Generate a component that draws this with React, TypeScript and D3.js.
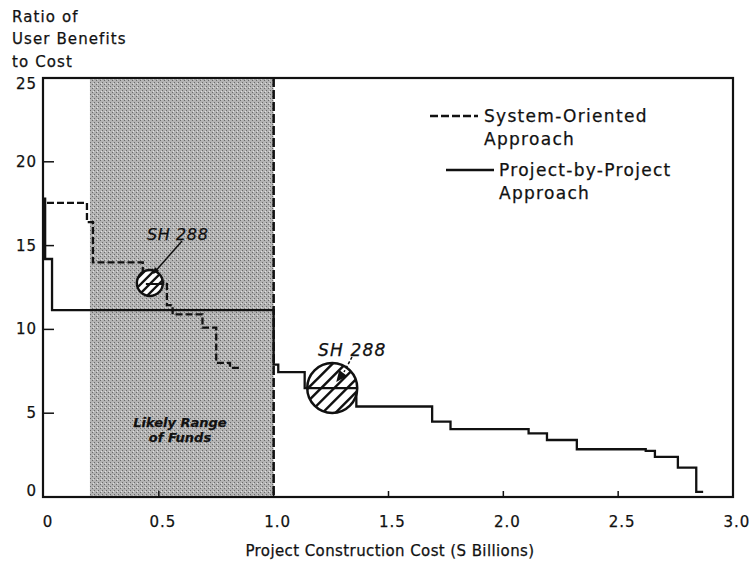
import React from 'react';
import * as d3 from 'd3';

// project-by-project approach (solid), step points
const solidX = [0, 0.005, 0.035, 1.0, 1.02, 1.135, 1.36, 1.69, 1.77, 2.11, 2.19, 2.32, 2.62, 2.66, 2.76, 2.84, 2.87];
const solidY = [17.8, 14.2, 11.15, 7.9, 7.45, 6.5, 5.4, 4.5, 4.05, 3.8, 3.4, 2.85, 2.75, 2.4, 1.75, 0.3, 0.3];

// system-oriented approach (dashed)
const dashX = [0.013, 0.187, 0.213, 0.43, 0.535, 0.56, 0.69, 0.75, 0.81, 0.86];
const dashY = [17.55, 16.4, 14.0, 12.8, 11.45, 10.9, 10.1, 8.0, 7.7, 7.7];

const xTicks = [0, 0.5, 1.0, 1.5, 2.0, 2.5, 3.0];
const xTickLabels = ['0', '0.5', '1.0', '1.5', '2.0', '2.5', '3.0'];
const yTicks = [0, 5, 10, 15, 20, 25];

const fundsRange = [0.2, 1.0];
// SH 288 markers: [x, y]
const sh288System = [0.461, 12.77];
const sh288Project = [1.255, 6.5];

const W = 750;
const H = 565;
const FONT = '"DejaVu Sans", Arial, sans-serif';
const INK = '#111';

const App = () => {
  const x = d3.scaleLinear().domain([0, 3]).range([44, 733]);
  const y = d3.scaleLinear().domain([0, 25]).range([497, 78]);

  const step = d3
    .line<[number, number]>()
    .x((d) => x(d[0]))
    .y((d) => y(d[1]))
    .curve(d3.curveStepAfter);

  const solidPath = step(solidX.map((v, i) => [v, solidY[i]]));
  const dashPath = step(dashX.map((v, i) => [v, dashY[i]]));

  const c1x = x(sh288System[0]);
  const c1y = y(sh288System[1]);
  const c2x = x(sh288Project[0]);
  const c2y = y(sh288Project[1]);
  const r1 = 13;
  const r2 = 25;

  const hatch = (cx: number, cy: number, r: number, gap: number) => {
    const out = [];
    for (let k = -r * 2; k <= r * 2; k += gap) {
      out.push(
        <line key={k} x1={cx + k - r} y1={cy + r} x2={cx + k + r} y2={cy - r} stroke={INK} strokeWidth={2.4} />
      );
    }
    return out;
  };

  const txt = { fontFamily: FONT, fill: INK, stroke: INK, strokeWidth: 0.25 };

  return (
    <svg width={W} height={H} style={{ position: 'absolute', left: 0, top: 0, background: '#fff' }}>
      <defs>
        <clipPath id="c1">
          <circle cx={c1x} cy={c1y} r={r1} />
        </clipPath>
        <clipPath id="c2">
          <circle cx={c2x} cy={c2y} r={r2} />
        </clipPath>
        <pattern id="stipple" width={4} height={4} patternUnits="userSpaceOnUse">
          <rect width={4} height={4} fill="#b4b4b4" />
          <rect x={0} y={0} width={1} height={1} fill="#6a6a6a" />
          <rect x={2} y={2} width={1} height={1} fill="#6a6a6a" />
          <rect x={1} y={3} width={1} height={1} fill="#e0e0e0" />
        </pattern>
      </defs>

      {/* likely range of funds */}
      <rect
        x={x(fundsRange[0])}
        y={y(25)}
        width={x(fundsRange[1]) - x(fundsRange[0])}
        height={y(0) - y(25)}
        fill="url(#stipple)"
      />
      <line
        x1={x(fundsRange[1])}
        x2={x(fundsRange[1])}
        y1={y(25)}
        y2={y(0)}
        stroke={INK}
        strokeWidth={2.5}
        strokeDasharray="9,3"
      />
      <text {...txt} fontSize={13} fontWeight="bold" fontStyle="italic" textAnchor="middle">
        <tspan x={180} y={427}>Likely Range</tspan>
        <tspan x={180} y={442}>of Funds</tspan>
      </text>

      {/* frame */}
      <rect x={x(0) - 1} y={y(25)} width={x(3) - x(0) + 1} height={y(0) - y(25)} fill="none" stroke={INK} strokeWidth={2.2} />

      {/* ticks */}
      {yTicks.slice(1, -1).map((t) => (
        <line key={t} x1={x(0)} x2={x(0) + 10} y1={y(t)} y2={y(t)} stroke={INK} strokeWidth={1.5} />
      ))}
      {xTicks.slice(1, -1).map((t) => (
        <line key={t} x1={x(t)} x2={x(t)} y1={y(0)} y2={y(0) - 6} stroke={INK} strokeWidth={1.5} />
      ))}

      {/* series */}
      <path d={dashPath || ''} fill="none" stroke={INK} strokeWidth={2.3} strokeDasharray="7,3" />
      <path d={solidPath || ''} fill="none" stroke={INK} strokeWidth={2.3} />

      {/* SH 288 markers */}
      <circle cx={c1x} cy={c1y} r={r1} fill="#fff" />
      <g clipPath="url(#c1)">{hatch(c1x, c1y, r1, 9)}</g>
      <line x1={c1x - 4} x2={c1x + r1} y1={c1y + 1} y2={c1y + 1} stroke={INK} strokeWidth={2} />
      <circle cx={c1x} cy={c1y} r={r1} fill="none" stroke={INK} strokeWidth={2.4} />
      <line x1={182} y1={241} x2={c1x + 4} y2={c1y - 10} stroke={INK} strokeWidth={1.5} />
      <path d={`M${c1x + 3},${c1y - 9} l2,-7 l4,4 z`} fill={INK} />
      <text {...txt} x={147} y={240} fontSize={16} fontStyle="italic" letterSpacing={0.6}>
        SH 288
      </text>

      <circle cx={c2x} cy={c2y} r={r2} fill="#fff" />
      <g clipPath="url(#c2)">{hatch(c2x, c2y, r2, 13)}</g>
      <line x1={c2x - r2} x2={c2x + r2} y1={c2y} y2={c2y} stroke={INK} strokeWidth={2.3} />
      <circle cx={c2x} cy={c2y} r={r2} fill="none" stroke={INK} strokeWidth={2.5} />
      <line x1={352} y1={357} x2={344} y2={372} stroke={INK} strokeWidth={1.5} strokeDasharray="3,2" />
      <path d={`M${c2x + 4},${c2y - 6} l3,-12 l8,6 z`} fill={INK} />
      <text {...txt} x={318} y={356} fontSize={17} fontStyle="italic" letterSpacing={1.2}>
        SH 288
      </text>

      {/* legend */}
      <line x1={430} x2={478} y1={116} y2={116} stroke={INK} strokeWidth={2.3} strokeDasharray="8,3" />
      <text {...txt} fontSize={17} letterSpacing={1.3}>
        <tspan x={484} y={122}>System-Oriented</tspan>
        <tspan x={484} y={145}>Approach</tspan>
      </text>
      <line x1={446} x2={494} y1={170} y2={170} stroke={INK} strokeWidth={2.3} />
      <text {...txt} fontSize={17} letterSpacing={1.3}>
        <tspan x={499} y={176}>Project-by-Project</tspan>
        <tspan x={499} y={199}>Approach</tspan>
      </text>

      {/* tick labels */}
      {yTicks.map((t) => (
        <text
          key={t}
          {...txt}
          x={37}
          y={y(t) + 5 + (t === 25 ? 6 : t === 0 ? -6 : 0)}
          textAnchor="end"
          fontSize={15}
          letterSpacing={1}
        >
          {t}
        </text>
      ))}
      {xTicks.map((t, i) => (
        <text key={t} {...txt} x={x(t) + 4} y={527} textAnchor="middle" fontSize={15} letterSpacing={1}>
          {xTickLabels[i]}
        </text>
      ))}

      {/* axis titles */}
      <text {...txt} x={390} y={556} textAnchor="middle" fontSize={15} letterSpacing={0.4}>
        Project Construction Cost (S Billions)
      </text>
      <text {...txt} fontSize={15} letterSpacing={1.1}>
        <tspan x={12} y={22}>Ratio of</tspan>
        <tspan x={12} y={44}>User Benefits</tspan>
        <tspan x={12} y={67}>to Cost</tspan>
      </text>
    </svg>
  );
};

export default App;
